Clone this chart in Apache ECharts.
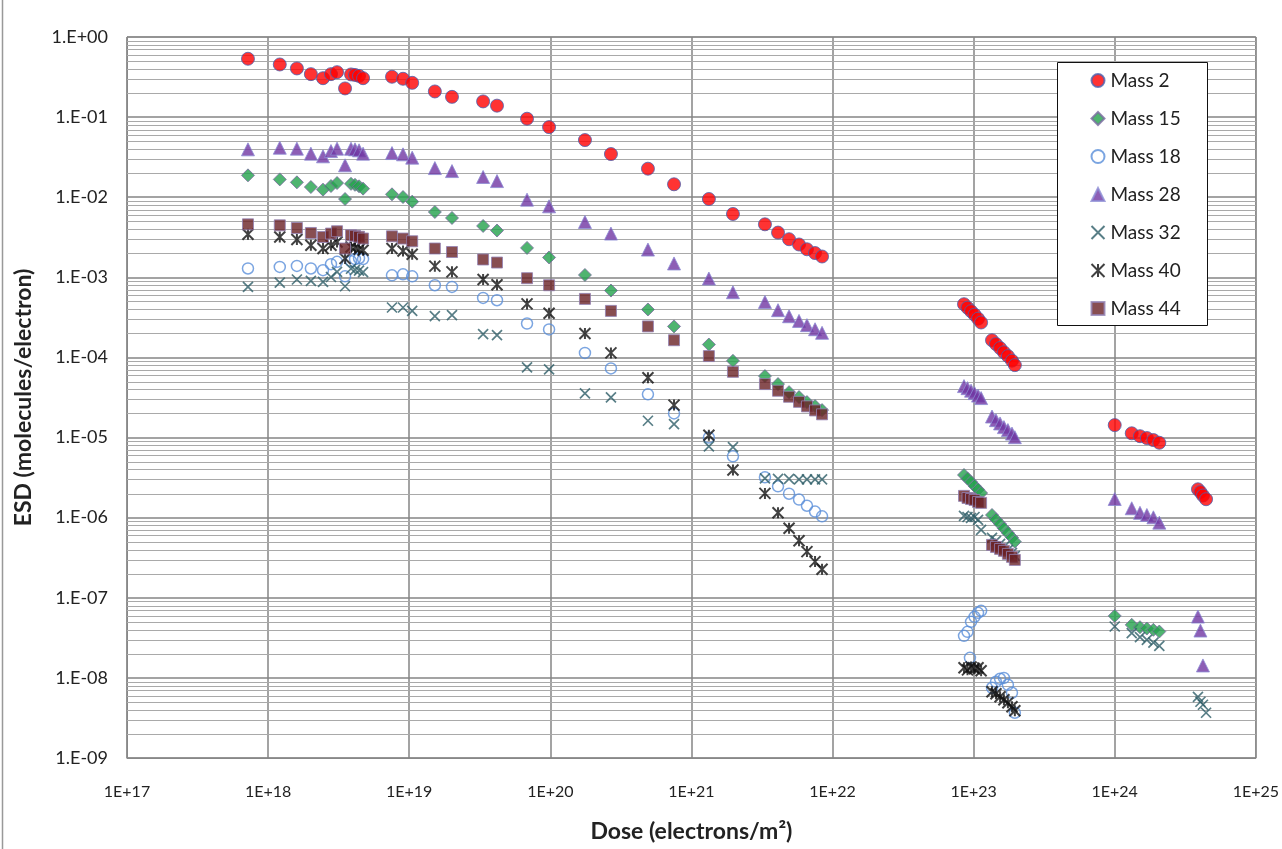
<!DOCTYPE html>
<html><head><meta charset="utf-8">
<script src="https://cdn.jsdelivr.net/npm/echarts@6/dist/echarts.min.js"></script>
<style>html,body{margin:0;padding:0;background:#fff}#c{width:1282px;height:849px}</style>
</head><body><div id="c"></div>
<script>
// Dose values (electrons/m^2) shared by all series
const doses = [
  7.2e17, 1.21e18, 1.60e18, 2.01e18, 2.45e18, 2.79e18, 3.08e18, 3.51e18, 3.87e18, 4.13e18, 4.41e18, 4.71e18,
  7.55e18, 9.04e18, 1.05e19, 1.52e19, 2.01e19, 3.34e19, 4.19e19, 6.84e19, 9.8e19, 1.76e20, 2.69e20, 4.92e20, 7.53e20,
  1.33e21, 1.97e21, 3.32e21, 4.11e21, 4.92e21, 5.79e21, 6.59e21, 7.52e21, 8.43e21,
  8.55e22, 9.05e22, 9.59e22, 1.015e23, 1.075e23, 1.13e23,
  1.35e23, 1.44e23, 1.54e23, 1.64e23, 1.75e23, 1.87e23, 1.96e23,
  1.0e24, 1.32e24, 1.51e24, 1.69e24, 1.88e24, 2.07e24,
  3.89e24, 4.05e24, 4.22e24, 4.44e24,
  9.42e22
];
const mass2 = [
  0.535, 0.454, 0.405, 0.344, 0.306, 0.344, 0.364, 0.228, 0.341, 0.336, 0.327, 0.306,
  0.319, 0.301, 0.268, 0.209, 0.179, 0.157, 0.139, 0.0955, 0.075, 0.0517, 0.0346, 0.0227, 0.0145,
  0.0095, 0.00618, 0.00459, 0.00362, 0.00299, 0.00257, 0.00224, 0.00201, 0.00182,
  4.62e-4, 4.18e-4, 3.78e-4, 3.42e-4, 3.05e-4, 2.73e-4,
  1.64e-4, 1.47e-4, 1.31e-4, 1.16e-4, 1.04e-4, 9.12e-5, 8.02e-5,
  1.43e-5, 1.13e-5, 1.04e-5, 9.86e-6, 9.31e-6, 8.61e-6,
  2.26e-6, 2.09e-6, 1.89e-6, 1.70e-6,
  null
];
const mass15 = [
  0.01875, 0.0167, 0.01534, 0.0134, 0.01244, 0.0138, 0.01503, 0.0095, 0.01469, 0.01428, 0.01368, 0.0128,
  0.01087, 0.01005, 0.00881, 0.00654, 0.00551, 0.00438, 0.00384, 0.00233, 0.00177, 0.00107, 6.84e-4, 3.97e-4, 2.44e-4,
  1.45e-4, 9.07e-5, 5.85e-5, 4.65e-5, 3.69e-5, 3.20e-5, 2.77e-5, 2.47e-5, 2.20e-5,
  3.41e-6, 3.08e-6, 2.79e-6, 2.49e-6, 2.25e-6, 2.03e-6,
  1.08e-6, 9.5e-7, 8.35e-7, 7.33e-7, 6.44e-7, 5.66e-7, 5.02e-7,
  5.94e-8, 4.59e-8, 4.30e-8, 4.13e-8, 3.98e-8, 3.79e-8,
  null, null, null, null,
  null
];
const mass18 = [
  1.29e-3, 1.35e-3, 1.39e-3, 1.29e-3, 1.23e-3, 1.46e-3, 1.56e-3, 1.03e-3, 1.59e-3, 1.69e-3, 1.73e-3, 1.69e-3,
  1.06e-3, 1.09e-3, 1.03e-3, 7.97e-4, 7.59e-4, 5.53e-4, 5.18e-4, 2.65e-4, 2.24e-4, 1.14e-4, 7.30e-5, 3.46e-5, 2.00e-5,
  1.00e-5, 5.83e-6, 3.19e-6, 2.46e-6, 1.99e-6, 1.68e-6, 1.41e-6, 1.19e-6, 1.04e-6,
  3.35e-8, 3.76e-8, 5.01e-8, 5.78e-8, 6.49e-8, 6.87e-8,
  7.53e-9, 8.94e-9, 9.75e-9, 1.00e-8, 8.20e-9, 6.52e-9, 3.67e-9,
  null, null, null, null, null, null,
  null, null, null, null,
  1.78e-8
];
const mass28 = [
  0.0396, 0.0415, 0.0404, 0.0350, 0.0324, 0.0377, 0.0404, 0.0250, 0.0403, 0.0396, 0.0385, 0.0350,
  0.0356, 0.0343, 0.0312, 0.0231, 0.0212, 0.0179, 0.0159, 0.00933, 0.0077, 0.00491, 0.00352, 0.00222, 0.00149,
  9.66e-4, 6.52e-4, 4.93e-4, 3.89e-4, 3.27e-4, 2.86e-4, 2.53e-4, 2.25e-4, 2.03e-4,
  4.39e-5, 4.14e-5, 3.85e-5, 3.59e-5, 3.34e-5, 3.11e-5,
  1.83e-5, 1.65e-5, 1.50e-5, 1.35e-5, 1.24e-5, 1.12e-5, 1.01e-5,
  1.71e-6, 1.31e-6, 1.15e-6, 1.08e-6, 1.01e-6, 8.67e-7,
  5.83e-8, 3.90e-8, 1.43e-8, null,
  null
];
const mass32 = [
  7.59e-4, 8.61e-4, 9.39e-4, 9.02e-4, 8.77e-4, 1.01e-3, 1.17e-3, 7.74e-4, 1.28e-3, 1.24e-3, 1.21e-3, 1.16e-3,
  4.20e-4, 4.20e-4, 3.81e-4, 3.27e-4, 3.37e-4, 1.95e-4, 1.90e-4, 7.50e-5, 7.08e-5, 3.56e-5, 3.17e-5, 1.62e-5, 1.47e-5,
  7.76e-6, 7.61e-6, 3.1e-6, 3.05e-6, 3.05e-6, 3.0e-6, 3.0e-6, 3.0e-6, 3.0e-6,
  1.05e-6, 1.02e-6, 9.9e-7, 1.02e-6, 9.36e-7, 7.03e-7,
  5.58e-7, 5.13e-7, 4.70e-7, 4.31e-7, 3.96e-7, 3.63e-7, 3.33e-7,
  4.38e-8, 3.62e-8, 3.23e-8, 2.99e-8, 2.76e-8, 2.51e-8,
  5.81e-9, 5.04e-9, 4.62e-9, 3.67e-9,
  null
];
const mass40 = [
  3.45e-3, 3.19e-3, 2.96e-3, 2.51e-3, 2.29e-3, 2.51e-3, 2.76e-3, 1.72e-3, 2.39e-3, 2.34e-3, 2.24e-3, 2.18e-3,
  2.29e-3, 2.13e-3, 1.94e-3, 1.38e-3, 1.17e-3, 9.39e-4, 8.09e-4, 4.66e-4, 3.57e-4, 1.99e-4, 1.14e-4, 5.57e-5, 2.54e-5,
  1.07e-5, 3.94e-6, 2.01e-6, 1.15e-6, 7.38e-7, 5.16e-7, 3.77e-7, 2.83e-7, 2.27e-7,
  1.34e-8, 1.26e-8, 1.37e-8, 1.30e-8, 1.34e-8, 1.23e-8,
  6.71e-9, 6.34e-9, 5.81e-9, 5.33e-9, 4.89e-9, 4.36e-9, 3.88e-9,
  null, null, null, null, null, null,
  null, null, null, null,
  null
];
const mass44 = [
  4.59e-3, 4.46e-3, 4.13e-3, 3.58e-3, 3.19e-3, 3.52e-3, 3.76e-3, 2.29e-3, 3.35e-3, 3.30e-3, 3.21e-3, 3.05e-3,
  3.25e-3, 3.05e-3, 2.82e-3, 2.29e-3, 2.07e-3, 1.67e-3, 1.53e-3, 9.75e-4, 7.97e-4, 5.38e-4, 3.81e-4, 2.44e-4, 1.64e-4,
  1.04e-4, 6.61e-5, 4.65e-5, 3.84e-5, 3.23e-5, 2.79e-5, 2.45e-5, 2.18e-5, 1.95e-5,
  1.87e-6, 1.76e-6, 1.71e-6, 1.66e-6, 1.57e-6, 1.53e-6,
  4.57e-7, 4.31e-7, 4.07e-7, 3.85e-7, 3.53e-7, 3.24e-7, 2.97e-7,
  null, null, null, null, null, null,
  null, null, null, null,
  null
];
const seriesNames = ['Mass 2', 'Mass 15', 'Mass 18', 'Mass 28', 'Mass 32', 'Mass 40', 'Mass 44'];
const xTickLabels = ['1E+17', '1E+18', '1E+19', '1E+20', '1E+21', '1E+22', '1E+23', '1E+24', '1E+25'];
const yTickLabels = ['1.E-09', '1.E-08', '1.E-07', '1.E-06', '1.E-05', '1.E-04', '1.E-03', '1.E-02', '1.E-01', '1.E+00'];

const X_MIN = 1e17, X_MAX = 1e25, Y_MIN = 1e-9, Y_MAX = 1;

function pairs(ys) {
  const out = [];
  ys.forEach((y, i) => { if (y != null) out.push([doses[i], y]); });
  return out;
}
// minor gridline positions (2..9 x 10^e)
const minorY = [];
for (let e = -9; e <= -1; e++) for (let k = 2; k <= 9; k++) minorY.push([X_MIN, k * Math.pow(10, e)]);

const XPATH = 'path://M0,0L10,10M10,0L0,10';
const STARPATH = 'path://M0,0L10,10M10,0L0,10M5,0L5,10';
const styles = [
  { symbol: 'circle', symbolSize: 13, itemStyle: { color: '#FF0000', borderColor: '#4A62B0', borderWidth: 1 } },
  { symbol: 'diamond', symbolSize: 13, itemStyle: { color: '#23A14C', borderColor: '#7A6AA0', borderWidth: 1 } },
  { symbol: 'circle', symbolSize: 11, itemStyle: { color: 'rgba(255,255,255,0)', borderColor: '#5A8EDA', borderWidth: 1.5 } },
  { symbol: 'triangle', symbolSize: 13, itemStyle: { color: '#7036A2', borderColor: '#8C8CD4', borderWidth: 1 } },
  { symbol: XPATH, symbolSize: 10, itemStyle: { color: 'none', borderColor: '#2E5E68', borderWidth: 1.7 } },
  { symbol: STARPATH, symbolSize: 11, itemStyle: { color: 'none', borderColor: '#111111', borderWidth: 2 } },
  { symbol: 'rect', symbolSize: 11, itemStyle: { color: '#6A2226', borderColor: '#9282B4', borderWidth: 1 } }
];
const dataSets = [mass2, mass15, mass18, mass28, mass32, mass40, mass44];

const series = [{
  type: 'custom', name: '_minor', silent: true, z: 1, clip: true,
  data: minorY,
  renderItem: function (params, api) {
    const v = api.value(1);
    const p1 = api.coord([X_MIN, v]);
    const p2 = api.coord([X_MAX, v]);
    const y = Math.round(p1[1]) + 0.5;
    return { type: 'line', silent: true,
      shape: { x1: p1[0], y1: y, x2: p2[0], y2: y },
      style: { stroke: '#a9a9a9', lineWidth: 1 } };
  }
}];
dataSets.forEach((d, i) => {
  series.push(Object.assign({
    type: 'scatter', name: seriesNames[i], data: pairs(d), z: 2 + i
  }, styles[i]));
});

const chart = echarts.init(document.getElementById('c'), null, { renderer: 'canvas' });
chart.setOption({
  animation: false,
  backgroundColor: '#ffffff',
  grid: { left: 127, right: 26, top: 37, bottom: 91, show: true, borderColor: '#888', borderWidth: 1, backgroundColor: 'transparent' },
  xAxis: {
    type: 'log', logBase: 10, min: X_MIN, max: X_MAX, splitNumber: 8,
    name: 'Dose (electrons/m\u00B2)', nameLocation: 'middle', nameGap: 62,
    nameTextStyle: { fontFamily: 'Lato', fontWeight: 'bold', fontSize: 23, color: '#222' },
    axisLine: { show: true, lineStyle: { color: '#888' } },
    axisTick: { show: false },
    axisLabel: { margin: 26, fontFamily: 'Lato', fontSize: 16, color: '#222',
      formatter: v => xTickLabels[Math.round(Math.log10(v)) - 17] },
    splitLine: { show: true, lineStyle: { color: '#858585', width: 1.5 } }
  },
  yAxis: {
    type: 'log', logBase: 10, min: Y_MIN, max: Y_MAX, splitNumber: 9,
    name: 'ESD (molecules/electron)', nameLocation: 'middle', nameGap: 92, nameRotate: 90,
    nameTextStyle: { fontFamily: 'Lato', fontWeight: 'bold', fontSize: 23, color: '#222' },
    axisLine: { show: true, lineStyle: { color: '#888' } },
    axisTick: { show: false },
    axisLabel: { margin: 19, fontFamily: 'Lato', fontSize: 18, color: '#222',
      formatter: v => yTickLabels[Math.round(Math.log10(v)) + 9] },
    splitLine: { show: true, lineStyle: { color: '#858585', width: 1.5 } }
  },
  legend: {
    data: seriesNames, orient: 'vertical', left: 1089, top: 71, z: 100,
    itemWidth: 13, itemHeight: 13, itemGap: 19, padding: 0,
    textStyle: { fontFamily: 'Lato', fontSize: 19, color: '#222', padding: [0, 0, 0, 1] },
    selectedMode: false
  },
  graphic: [
    { type: 'rect', z: 50, shape: { x: 1057.5, y: 62.5, width: 150, height: 263 }, style: { fill: '#fff', stroke: '#111', lineWidth: 1 } },
    { type: 'line', z: 50, shape: { x1: 2.5, y1: 0, x2: 2.5, y2: 849 }, style: { stroke: '#999', lineWidth: 1.5 } }
  ],
  series: series
});
</script></body></html>
